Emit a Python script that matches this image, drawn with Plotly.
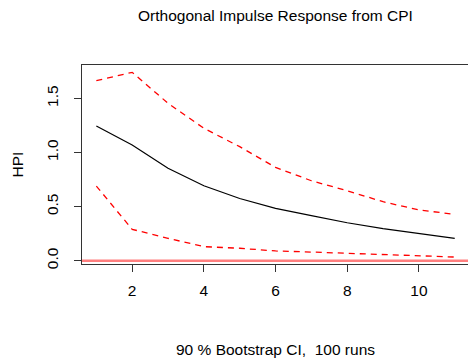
import plotly.graph_objects as go

steps = list(range(1, 12))
irf = [1.245, 1.069, 0.854, 0.693, 0.575, 0.484, 0.416, 0.351, 0.296, 0.250, 0.207]
upper = [1.664, 1.741, 1.455, 1.224, 1.054, 0.863, 0.739, 0.647, 0.545, 0.469, 0.429]
lower = [0.690, 0.290, 0.207, 0.130, 0.115, 0.090, 0.080, 0.068, 0.059, 0.046, 0.034]

FONT = "Liberation Sans, Arial, Helvetica, sans-serif"
FS = 15.5

fig = go.Figure()
fig.add_trace(go.Scatter(x=[0.0, 12.0], y=[0, 0], mode="lines",
                         line=dict(color="rgba(255,0,0,0.5)", width=2.5), showlegend=False,
                         hoverinfo="skip"))
fig.add_trace(go.Scatter(x=steps, y=upper, mode="lines",
                         line=dict(color="#ff0000", width=1.3, dash="6px,5px"), showlegend=False))
fig.add_trace(go.Scatter(x=steps, y=lower, mode="lines",
                         line=dict(color="#ff0000", width=1.3, dash="6px,5px"), showlegend=False))
fig.add_trace(go.Scatter(x=steps, y=irf, mode="lines",
                         line=dict(color="#000000", width=1.2), showlegend=False))

fig.update_layout(
    width=468, height=358,
    margin=dict(l=82, r=0, t=65, b=94),
    paper_bgcolor="white", plot_bgcolor="white",
    font=dict(family=FONT, size=FS, color="black"),
    xaxis=dict(range=[0.6, 11.37], tickvals=[2, 4, 6, 8, 10], ticks="outside", ticklen=7,
               tickcolor="#333", showgrid=False, zeroline=False, showline=True, linecolor="#333",
               linewidth=1, mirror=True, ticklabelstandoff=5, tickfont=dict(size=FS)),
    yaxis=dict(range=[-0.0305, 1.809], tickvals=[0, 0.5, 1.0, 1.5],
               ticktext=["0.0", "0.5", "1.0", "1.5"], tickangle=-90, ticks="outside", ticklen=7,
               tickcolor="#333", showgrid=False, zeroline=False, showline=True, linecolor="#333",
               linewidth=1, mirror=True, ticklabelstandoff=10, tickfont=dict(size=FS)),
    annotations=[
        dict(text="Orthogonal Impulse Response from CPI", xref="paper", yref="paper",
             x=0.5, y=1, xanchor="center", yanchor="middle", showarrow=False,
             font=dict(size=FS), yshift=50),
        dict(text="HPI", xref="paper", yref="paper",
             x=0, y=0.5, xanchor="center", yanchor="middle", showarrow=False,
             textangle=-90, xshift=-65, font=dict(size=FS)),
        dict(text="90 % Bootstrap CI,  100 runs", xref="paper", yref="paper",
             x=0.5, y=0, xanchor="center", yanchor="middle", showarrow=False,
             yshift=-85, font=dict(size=FS)),
    ],
)
fig.write_html("out.html")
